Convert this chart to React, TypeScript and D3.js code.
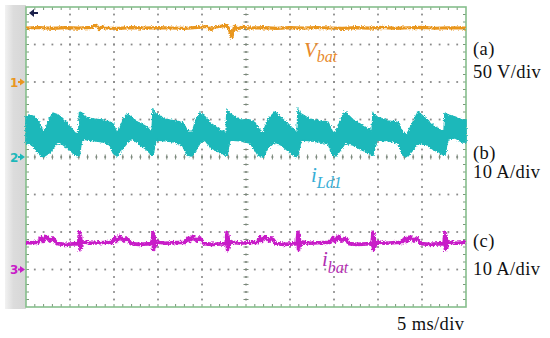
import React from 'react';
import * as d3 from 'd3';

// Grid: 10 horizontal divisions (5 ms/div), 8 vertical divisions
const timeDivs = [0, 5, 10, 15, 20, 25, 30, 35, 40, 45, 50];
const yDivs = [-4, -3, -2, -1, 0, 1, 2, 3, 4];

// Channel settings
const vbatPerDiv = 50; // V/div, ground at +2 div
const iLdPerDiv = 10; // A/div, ground at 0 div
const ibatPerDiv = 10; // A/div, ground at -3 div
const ch1Ground = 2;
const ch2Ground = 0;
const ch3Ground = -3;

// Vbat (V)
const vbatTime = [0, 1.5, 3, 4.5, 6, 7.5, 8.0, 8.3, 8.6, 9, 10.5, 12, 13.5, 15, 16.5, 18, 19.5, 20.6, 21, 21.3, 22.8, 23.1, 23.4, 23.7, 24, 24.5, 25.5, 27, 28.5, 30, 31.5, 33, 34.5, 36, 37.5, 39, 40.5, 42, 43.5, 45, 46.5, 48, 50];
const vbatValue = [72, 72.7, 71.5, 72.4, 71.8, 72.9, 75.5, 70, 73.5, 72, 71.6, 72.5, 71.8, 72.6, 72, 71.4, 72.8, 74, 69, 73, 75.5, 70, 60, 74.5, 70.5, 73, 72, 72.6, 71.5, 72.4, 71.8, 72.7, 72, 71.5, 72.6, 71.9, 72.8, 71.6, 72.3, 72.9, 71.7, 72.3, 72];

// iLd1 (A) envelope
const iLdTime = [0, 0.45, 0.8, 1.36, 1.7, 1.93, 2.27, 2.73, 3.07, 3.64, 4.09, 4.43, 5.0, 5.57, 5.97, 6.08, 6.36, 6.93, 7.84, 8.75, 9.55, 9.89, 10.34, 10.68, 11.14, 11.48, 12.05, 12.73, 13.75, 14.32, 14.43, 14.77, 15.8, 16.93, 17.84, 18.3, 18.86, 19.32, 19.77, 20.34, 20.91, 22.05, 22.73, 22.84, 23.18, 24.32, 25.45, 26.02, 26.36, 26.93, 27.5, 28.3, 28.98, 29.66, 30.45, 30.8, 30.91, 31.25, 32.27, 33.41, 34.32, 34.89, 35.23, 35.91, 36.25, 37.16, 38.18, 38.86, 39.32, 39.43, 39.89, 41.14, 42.27, 42.84, 43.3, 43.98, 44.55, 45.57, 46.36, 47.05, 47.5, 47.61, 47.95, 48.75, 49.55, 50];
const iLdUpper = [10.7, 11.2, 10.9, 9.9, 8.0, 6.7, 7.7, 10.4, 11.7, 11.2, 10.4, 9.6, 8.0, 6.4, 6.1, 12.0, 11.7, 10.4, 10.1, 9.9, 9.3, 8.8, 6.4, 7.7, 10.4, 11.5, 10.4, 9.3, 8.0, 6.4, 12.5, 11.5, 10.1, 9.6, 9.1, 7.2, 6.4, 9.9, 11.7, 10.7, 9.1, 7.2, 6.4, 12.5, 11.5, 9.9, 9.9, 9.1, 7.7, 6.4, 10.1, 12.0, 10.4, 9.1, 7.2, 6.4, 12.5, 11.5, 10.1, 9.6, 9.3, 6.4, 6.7, 10.7, 12.0, 9.9, 8.5, 7.5, 6.9, 11.7, 10.7, 9.6, 9.3, 6.4, 6.1, 9.3, 12.0, 9.9, 8.3, 7.2, 6.9, 11.7, 11.2, 10.7, 9.9, 9.9];
const iLdLower = [3.7, 3.5, 2.9, 1.3, 0.3, 0.0, 0.5, 1.3, 2.4, 4.0, 3.5, 2.9, 1.9, 0.5, 0.3, 0.5, 4.8, 4.5, 4.3, 4.0, 3.2, 1.1, 0.3, 1.3, 2.7, 3.7, 5.1, 3.7, 1.9, 0.5, 0.5, 4.5, 4.3, 4.0, 2.9, 0.5, 0.3, 1.9, 3.7, 4.5, 2.7, 1.1, 0.5, 0.5, 4.5, 4.3, 3.7, 1.9, 0.5, 0.0, 2.4, 4.0, 3.2, 1.9, 0.3, 0.0, 0.3, 4.5, 4.3, 4.0, 3.5, 0.5, 0.3, 2.4, 3.7, 3.2, 1.9, 1.1, 0.5, 0.5, 4.5, 4.3, 3.7, 0.5, 0.0, 1.9, 3.7, 3.2, 1.9, 1.1, 0.5, 0.5, 4.8, 5.1, 4.0, 4.0];

// ibat (A)
const ibatTime = [0, 0.68, 1.25, 1.36, 1.7, 1.93, 2.27, 2.73, 3.07, 3.52, 4.43, 5.97, 6.08, 6.14, 6.19, 6.31, 6.42, 7.44, 8.81, 9.77, 10.11, 10.34, 10.68, 11.14, 11.48, 11.93, 12.84, 14.32, 14.43, 14.49, 14.55, 14.66, 14.77, 15.8, 17.16, 18.07, 18.41, 18.64, 18.98, 19.43, 19.77, 20.23, 21.14, 22.73, 22.84, 22.9, 22.95, 23.07, 23.18, 24.2, 25.57, 26.25, 26.59, 26.82, 27.16, 27.61, 27.95, 28.41, 29.32, 30.8, 30.91, 30.97, 31.02, 31.14, 31.25, 32.27, 33.64, 34.55, 34.89, 35.11, 35.45, 35.91, 36.25, 36.7, 37.61, 39.32, 39.43, 39.49, 39.55, 39.66, 39.77, 40.8, 42.16, 42.73, 43.07, 43.3, 43.64, 44.09, 44.43, 44.89, 45.8, 47.5, 47.61, 47.67, 47.73, 47.84, 47.95, 48.98, 50];
const ibatValue = [7.2, 7.1, 7.3, 7.2, 8.5, 7.5, 8.8, 7.6, 8.4, 6.9, 6.7, 6.9, 9.9, 5.3, 9.0, 6.1, 7.4, 7.0, 7.2, 7.2, 8.5, 7.5, 8.8, 7.6, 8.4, 6.9, 6.7, 6.9, 9.9, 5.3, 9.0, 6.1, 7.4, 7.0, 7.2, 7.2, 8.5, 7.5, 8.8, 7.6, 8.4, 6.9, 6.7, 6.9, 9.9, 5.3, 9.0, 6.1, 7.4, 7.0, 7.2, 7.2, 8.5, 7.5, 8.8, 7.6, 8.4, 6.9, 6.7, 6.9, 9.9, 5.3, 9.0, 6.1, 7.4, 7.0, 7.2, 7.2, 8.5, 7.5, 8.8, 7.6, 8.4, 6.9, 6.7, 6.9, 9.9, 5.3, 9.0, 6.1, 7.4, 7.0, 7.2, 7.2, 8.5, 7.5, 8.8, 7.6, 8.4, 6.9, 6.7, 6.9, 9.9, 5.3, 9.0, 6.1, 7.4, 7.0, 7.2];

const labelsRight = ['(a)', '50 V/div', '(b)', '10 A/div', '(c)', '10 A/div'];
const timeLabel = '5 ms/div';

const ORANGE = '#E9961F';
const CYAN = '#1DB8BA';
const MAGENTA = '#C81FC8';
const GRID = '#8a8a8a';
const BORDER = '#86bf8c';

export default function App() {
  const xs = d3.scaleLinear().domain([0, 50]).range([26, 466]);
  const ys = d3.scaleLinear().domain([-4, 4]).range([307, 7]);
  const yV = (v: number) => ys(ch1Ground + v / vbatPerDiv);
  const yL = (a: number) => ys(ch2Ground + a / iLdPerDiv);
  const yB = (a: number) => ys(ch3Ground + a / ibatPerDiv);

  const minorT = d3.range(0, 50.001, 1);
  const minorY = d3.range(-4, 4.001, 0.2);

  const vbatLine = d3.line<number>().x((_, i) => xs(vbatTime[i])).y((v) => yV(v))(vbatValue) || '';
  const ibatLine = d3.line<number>().x((_, i) => xs(ibatTime[i])).y((v) => yB(v))(ibatValue) || '';
  const iLdArea = d3.area<number>()
    .x((_, i) => xs(iLdTime[i]))
    .y0((_, i) => yL(iLdLower[i]))
    .y1((v) => yL(v))(iLdUpper) || '';

  const [x0, x1] = xs.range();
  const [y1, y0] = ys.range();

  const dots: React.ReactNode[] = [];
  yDivs.slice(1, -1).forEach((d) => {
    minorT.slice(1, -1).forEach((t) => {
      dots.push(<rect key={`h${d}-${t}`} x={xs(t) - 0.9} y={ys(d) - 0.9} width={1.8} height={1.8} fill={GRID} />);
    });
  });
  timeDivs.slice(1, -1).forEach((t) => {
    minorY.slice(1, -1).forEach((d) => {
      dots.push(<rect key={`v${t}-${d}`} x={xs(t) - 0.9} y={ys(d) - 0.9} width={1.8} height={1.8} fill={GRID} />);
    });
  });

  const ticks: React.ReactNode[] = [];
  minorT.slice(1, -1).forEach((t) => {
    ticks.push(<line key={`ct${t}`} x1={xs(t)} x2={xs(t)} y1={ys(0) - 2.5} y2={ys(0) + 2.5} stroke="#7a8a7a" strokeWidth={1} />);
    ticks.push(<line key={`tt${t}`} x1={xs(t)} x2={xs(t)} y1={y0} y2={y0 + 3} stroke="#7a9a7a" strokeWidth={1} />);
    ticks.push(<line key={`bt${t}`} x1={xs(t)} x2={xs(t)} y1={y1} y2={y1 - 3} stroke="#7a9a7a" strokeWidth={1} />);
  });
  minorY.slice(1, -1).forEach((d) => {
    ticks.push(<line key={`cv${d}`} x1={xs(25) - 2.5} x2={xs(25) + 2.5} y1={ys(d)} y2={ys(d)} stroke="#7a8a7a" strokeWidth={1} />);
    ticks.push(<line key={`lt${d}`} x1={x0} x2={x0 + 3} y1={ys(d)} y2={ys(d)} stroke="#7a9a7a" strokeWidth={1} />);
    ticks.push(<line key={`rt${d}`} x1={x1} x2={x1 - 3} y1={ys(d)} y2={ys(d)} stroke="#7a9a7a" strokeWidth={1} />);
  });

  const marker = (label: string, div: number, color: string) => {
    const y = ys(div);
    return (
      <g key={label}>
        <text x={10} y={y + 4.5} fontFamily="DejaVu Sans, sans-serif" fontWeight="bold" fontSize={12} fill={color}>{label}</text>
        <line x1={18} x2={22} y1={y} y2={y} stroke={color} strokeWidth={2} />
        <path d={`M20,${y - 3.5} L25,${y} L20,${y + 3.5} Z`} fill={color} />
      </g>
    );
  };

  const serif = 'Liberation Serif, Times New Roman, serif';

  return (
    <svg width={550} height={338} style={{ position: 'fixed', left: 0, top: 0, background: '#fff' }}>
      <defs>
        <filter id="rough" filterUnits="userSpaceOnUse" x={0} y={0} width={550} height={338}>
          <feTurbulence type="fractalNoise" baseFrequency="0.7" numOctaves={1} seed={4} result="n" />
          <feDisplacementMap in="SourceGraphic" in2="n" scale={4.5} xChannelSelector="R" yChannelSelector="G" />
        </filter>
        <linearGradient id="strip" x1="0" x2="1" y1="0" y2="0">
          <stop offset="0" stopColor="#f2f2f2" />
          <stop offset="0.4" stopColor="#dcdcdc" />
          <stop offset="1" stopColor="#d6d6d6" />
        </linearGradient>
      </defs>
      <rect x={0} y={0} width={550} height={338} fill="#fff" />
      <rect x={5} y={5} width={x0 - 5} height={y1 - 3} fill="url(#strip)" />
      <rect x={x0} y={y0} width={x1 - x0} height={y1 - y0} fill="#fff" />
      {dots}
      {ticks}
      <rect x={x0} y={y0} width={x1 - x0} height={y1 - y0} fill="none" stroke={BORDER} strokeWidth={1.6} />

      {/* traces */}
      <path d={iLdArea} fill={CYAN} stroke={CYAN} strokeWidth={1.5} filter="url(#rough)" />
      <path d={vbatLine} fill="none" stroke={ORANGE} strokeWidth={3.2} strokeLinejoin="round" filter="url(#rough)" />
      <path d={ibatLine} fill="none" stroke={MAGENTA} strokeWidth={3.6} strokeLinejoin="round" filter="url(#rough)" />

      {/* trigger arrow */}
      <line x1={31} x2={38} y1={13} y2={13} stroke="#1a1f4a" strokeWidth={2} />
      <path d="M34,9 L29,13 L34,17 Z" fill="#1a1f4a" />

      {marker('1', ch1Ground, ORANGE)}
      {marker('2', ch2Ground, CYAN)}
      {marker('3', ch3Ground, MAGENTA)}

      {/* trace labels */}
      <text x={304} y={57} fontFamily={serif} fontStyle="italic" fill="#E8892C">
        <tspan fontSize={21}>V</tspan>
        <tspan fontSize={16} dy={5}>bat</tspan>
      </text>
      <text x={311} y={182} fontFamily={serif} fontStyle="italic" fill="#37AED6">
        <tspan fontSize={21}>i</tspan>
        <tspan fontSize={16} dy={6}>Ld1</tspan>
      </text>
      <text x={322} y={266} fontFamily={serif} fontStyle="italic" fill="#B22FB2">
        <tspan fontSize={21}>i</tspan>
        <tspan fontSize={16} dy={7}>bat</tspan>
      </text>

      {/* right labels */}
      <g fontFamily={serif} fontSize={18.5} fill="#111" letterSpacing={0.4}>
        <text x={473} y={55}>{labelsRight[0]}</text>
        <text x={473} y={78}>{labelsRight[1]}</text>
        <text x={473} y={159}>{labelsRight[2]}</text>
        <text x={473} y={178}>{labelsRight[3]}</text>
        <text x={473} y={247}>{labelsRight[4]}</text>
        <text x={473} y={275}>{labelsRight[5]}</text>
        <text x={397} y={330}>{timeLabel}</text>
      </g>
    </svg>
  );
}
